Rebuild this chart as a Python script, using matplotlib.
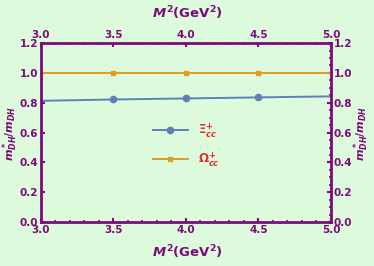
import matplotlib
matplotlib.use("Agg")
import matplotlib.pyplot as plt
from matplotlib.ticker import MultipleLocator

M2 = [3.0, 3.5, 4.0, 4.5, 5.0]
xi_ratio = [0.813, 0.822, 0.829, 0.836, 0.843]
omega_ratio = [1.0, 1.0, 1.0, 1.0, 1.0]
xticks = [3.0, 3.5, 4.0, 4.5, 5.0]
yticks = [0.0, 0.2, 0.4, 0.6, 0.8, 1.0, 1.2]

purple = "#7d0a7d"
bg = "#ddfadc"

plt.rcParams["mathtext.fontset"] = "custom"
plt.rcParams["mathtext.rm"] = "DejaVu Sans:bold"
plt.rcParams["mathtext.it"] = "DejaVu Sans:italic:bold"
plt.rcParams["mathtext.bf"] = "DejaVu Sans:bold"

fig = plt.figure(figsize=(3.74, 2.66), dpi=100, facecolor=bg)
ax = fig.add_axes([0.1096, 0.165, 0.7754, 0.673])
ax.set_facecolor(bg)

ax.plot(M2, xi_ratio, color="#5e81b5", lw=1.4, label=r"$\Xi^{+}_{cc}$",
        marker="o", ms=4.5, markevery=[1, 2, 3])
ax.plot(M2, omega_ratio, color="#e19c24", lw=1.4, label=r"$\Omega^{+}_{cc}$",
        marker="s", ms=3, markevery=[1, 2, 3])

ax.set_xlim(3.0, 5.0)
ax.set_ylim(0.0, 1.2)
ax.set_xticks(xticks)
ax.set_yticks(yticks)
ax.xaxis.set_minor_locator(MultipleLocator(0.1))
ax.yaxis.set_minor_locator(MultipleLocator(0.05))

for s in ax.spines.values():
    s.set_color(purple)
    s.set_linewidth(2)

ax.tick_params(which="both", direction="in", color=purple, top=True, right=True,
               labeltop=True, labelright=True, labelcolor=purple, labelsize=7.5, pad=2)
ax.tick_params(which="major", length=3, width=1.5)
ax.tick_params(which="minor", length=1.5, width=1.2)
ax.set_xticklabels([f"{v:.1f}" for v in xticks], fontweight="bold")
ax.set_yticklabels([f"{v:.1f}" for v in yticks], fontweight="bold")

xl = r"$M^{2}$(GeV$^{2}$)"
fig.text(0.5, 0.053, xl, color=purple, fontsize=9.5, fontweight="bold",
         ha="center", va="center")
fig.text(0.5, 0.952, xl, color=purple, fontsize=9.5, fontweight="bold",
         ha="center", va="center")

yl = r"$m^*_{DH}/m_{DH}$"
fig.text(0.027, 0.5, yl, color=purple, fontsize=8, rotation=90, va="center", ha="center")
fig.text(0.966, 0.5, yl, color=purple, fontsize=8, rotation=90, va="center", ha="center")

leg = ax.legend(loc="center", bbox_to_anchor=(0.5, 0.43), frameon=False,
                fontsize=8.5, handlelength=3, labelspacing=0.8)
for t in leg.get_texts():
    t.set_color("#e03030")

fig.savefig("out.png", dpi=100, facecolor=bg)
